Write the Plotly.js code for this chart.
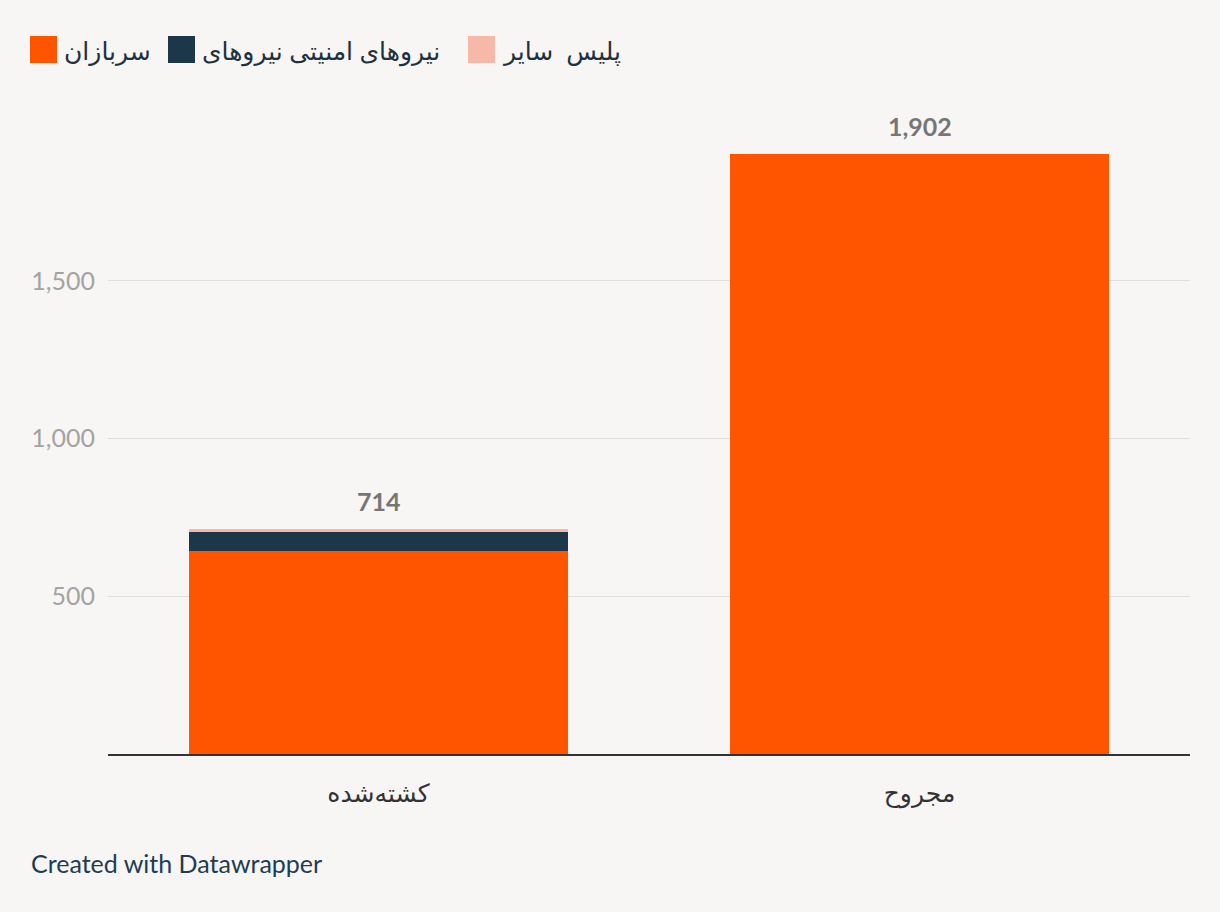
<!DOCTYPE html>
<html>
<head>
<meta charset="utf-8">
<script src="https://cdn.plot.ly/plotly-3.0.1.min.js"></script>
<style>
html,body{margin:0;padding:0;background:#f7f6f4;}
#chart{width:1220px;height:912px;}
</style>
</head>
<body>
<div id="chart"></div>
<script>
// ---- data ----
const categories = ["کشته‌شده", "مجروح"];
const seriesNames = ["سربازان", "نیروهای امنیتی نیروهای", "پلیس  سایر"];
const soldiers = [644, 1902];
const security = [60, 0];
const others = [10, 0];
const seriesColors = ["#ff5400", "#1c3749", "#f6b8a8"];
const yTickVals = [500, 1000, 1500];
const yTickText = ["500", "1,000", "1,500"];
const credit = "Created with Datawrapper";

const totals = categories.map((c, i) => soldiers[i] + security[i] + others[i]);
const fmt = v => v.toLocaleString("en-US");

const W = 1220, H = 912;
const M = {l: 108, r: 30, t: 123, b: 158};
const pw = W - M.l - M.r, ph = H - M.t - M.b;
const px = x => (x - M.l) / pw;
const py = y => (H - M.b - y) / ph;

const values = [soldiers, security, others];
const traces = values.map((v, i) => ({
  type: "bar",
  x: categories,
  y: v,
  name: seriesNames[i],
  marker: {color: seriesColors[i]},
  hoverinfo: "skip",
  showlegend: false
}));

const numFont = "Lato, Roboto, 'Noto Sans', sans-serif";
const faFont = "'Noto Sans', 'DejaVu Sans', sans-serif";
const annotations = [];
totals.forEach((t, i) => {
  annotations.push({
    x: categories[i], y: t, xref: "x", yref: "y",
    text: "<b>" + fmt(t) + "</b>", showarrow: false,
    yanchor: "bottom", yshift: 11,
    font: {family: numFont, size: 25, color: "#767676"}
  });
});

// legend (drawn manually to match the reference)
const legendX = [30, 168, 468];
const shapes = [];
seriesNames.forEach((n, i) => {
  shapes.push({
    type: "rect", xref: "paper", yref: "paper",
    x0: px(legendX[i]), x1: px(legendX[i] + 27),
    y0: py(63), y1: py(36),
    fillcolor: seriesColors[i], line: {width: 0}
  });
  annotations.push({
    xref: "paper", yref: "paper",
    x: px(legendX[i] + 32), y: py(50),
    xanchor: "left", yanchor: "middle",
    text: n, showarrow: false,
    font: {family: faFont, size: 25, color: "#1f3140"}
  });
});

annotations.push({
  xref: "paper", yref: "paper",
  x: px(29), y: py(863), xanchor: "left", yanchor: "middle",
  text: credit, showarrow: false,
  font: {family: numFont, size: 25, color: "#1d3d52"}
});

const layout = {
  width: W, height: H,
  margin: M,
  paper_bgcolor: "#f7f6f4",
  plot_bgcolor: "#f7f6f4",
  barmode: "stack",
  bargap: 0.3,
  showlegend: false,
  font: {family: numFont},
  xaxis: {
    type: "category",
    showgrid: false,
    zeroline: false,
    showline: true, linecolor: "#333333", linewidth: 1.5,
    ticks: "",
    tickfont: {family: faFont, size: 25, color: "#333333"},
    ticklabelstandoff: 16
  },
  yaxis: {
    range: [0, 2000],
    tickvals: yTickVals,
    ticktext: yTickText,
    showgrid: true, gridcolor: "#dedede", gridwidth: 1,
    zeroline: false,
    showline: false,
    ticks: "",
    ticklabelstandoff: 12,
    tickfont: {family: numFont, size: 25, color: "#a3a3a3"}
  },
  annotations: annotations,
  shapes: shapes
};

Plotly.newPlot("chart", traces, layout, {displayModeBar: false, staticPlot: true});
</script>
</body>
</html>
